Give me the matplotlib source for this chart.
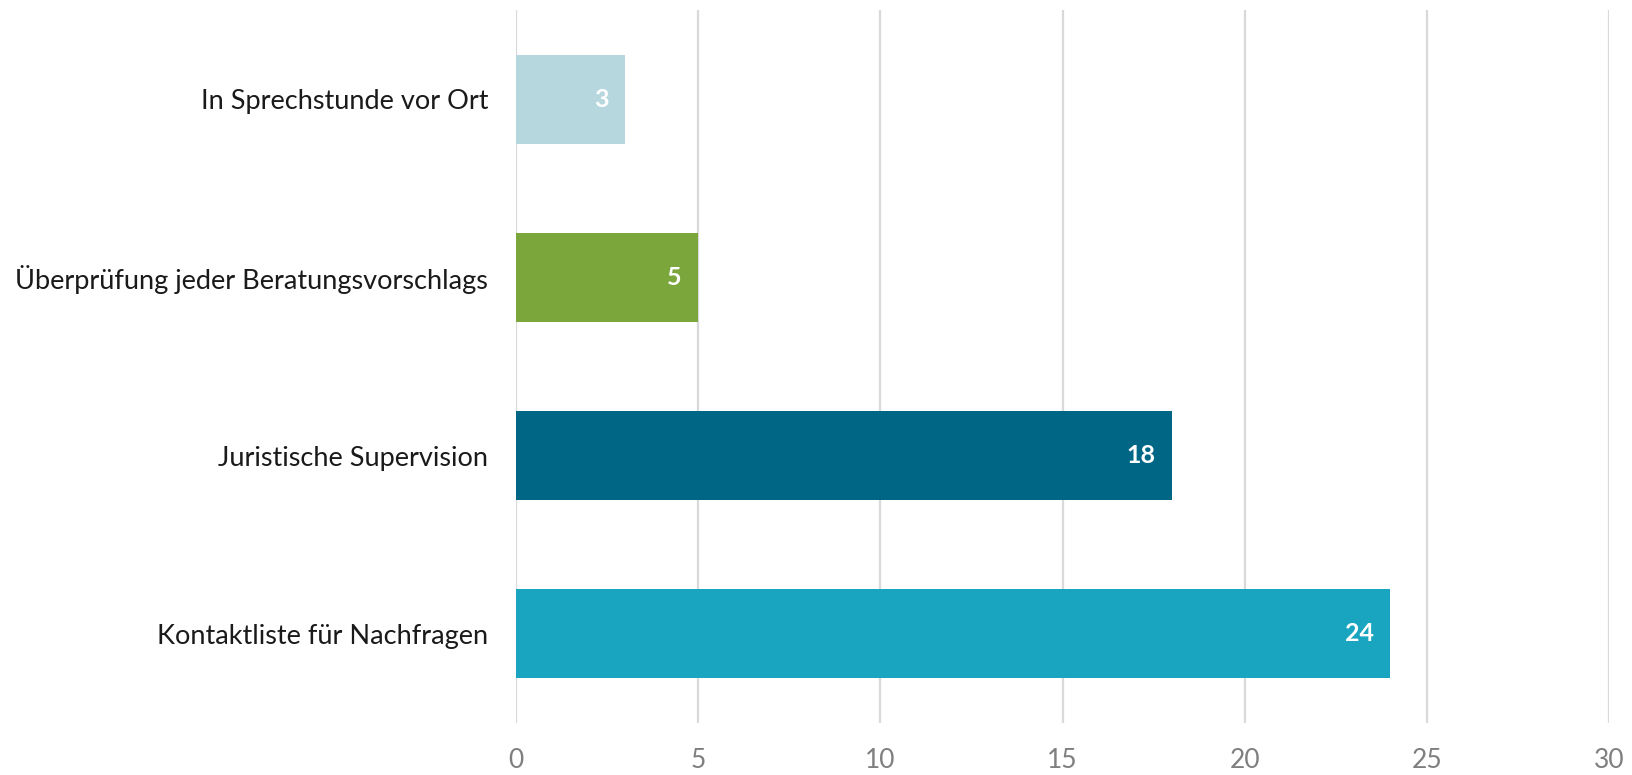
import matplotlib
matplotlib.use("Agg")
import matplotlib.pyplot as plt

categories = ["In Sprechstunde vor Ort", "Überprüfung jeder Beratungsvorschlags",
              "Juristische Supervision", "Kontaktliste für Nachfragen"]
values = [3, 5, 18, 24]
colors = ["#B7D7DF", "#7BA63B", "#006685", "#19A5C0"]
xticks = [0, 5, 10, 15, 20, 25, 30]

plt.rcParams['font.family'] = ['Lato', 'DejaVu Sans']

fig = plt.figure(figsize=(16.32, 7.75), dpi=100)
ax = fig.add_axes([516/1632, 1-723/775, (1609-516)/1632, (723-10)/775])

ypos = list(range(len(categories)))
ax.barh(ypos, values, height=0.5, color=colors, zorder=3)
for y, v in zip(ypos, values):
    ax.text(v - 0.45, y, str(v), ha='right', va='center', color='white',
            fontsize=18, fontweight='bold', zorder=4)

ax.set_ylim(3.5, -0.5)
ax.set_xlim(0, 30)
ax.set_xticks(xticks)
ax.set_xticklabels([str(t) for t in xticks], fontsize=19, color='#7F7F7F')
ax.set_yticks(ypos)
ax.set_yticklabels(categories, fontsize=19.5, color='#1a1a1a')
ax.tick_params(axis='both', length=0)
ax.tick_params(axis='y', pad=20)
ax.tick_params(axis='x', pad=18)
for s in ax.spines.values():
    s.set_visible(False)
ax.xaxis.grid(True, color='#D9D9D9', linewidth=1.6, zorder=0)
ax.set_axisbelow(True)

fig.savefig("out.png", dpi=100)
